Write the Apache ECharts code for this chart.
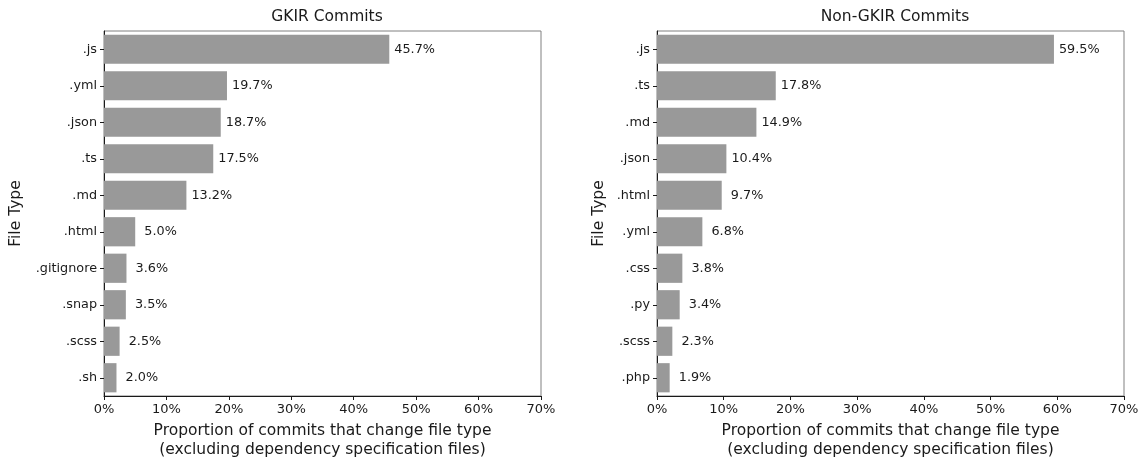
<!DOCTYPE html>
<html>
<head>
<meta charset="utf-8">
<script src="https://cdn.jsdelivr.net/npm/echarts@6/dist/echarts.min.js"></script>
<style>
  html, body { margin: 0; padding: 0; background: #fff; }
  #chart { width: 1147px; height: 468px; }
</style>
</head>
<body>
<div id="chart"></div>
<script>
// File types and the share of commits touching each one
const gkirTypes = ['.js', '.yml', '.json', '.ts', '.md', '.html', '.gitignore', '.snap', '.scss', '.sh'];
const gkirShares = [45.7, 19.7, 18.7, 17.5, 13.2, 5.0, 3.6, 3.5, 2.5, 2.0];

const otherTypes = ['.js', '.ts', '.md', '.json', '.html', '.yml', '.css', '.py', '.scss', '.php'];
const otherShares = [59.5, 17.8, 14.9, 10.4, 9.7, 6.8, 3.8, 3.4, 2.3, 1.9];

const panelTitles = ['GKIR Commits', 'Non-GKIR Commits'];
const xTitle = 'Proportion of commits that change file type\n(excluding dependency specification files)';
const yTitle = 'File Type';

const FONT = 'DejaVu Sans';
const DARK = '#1a1a1a';

// Pad single-digit percentages with a leading space, like a fixed-width format
function pctLabel(p) {
  const s = p.value.toFixed(1) + '%';
  return p.value < 10 ? ' ' + s : s;
}

function xAxisFor(gridIndex) {
  return {
    type: 'value', gridIndex, min: 0, max: 70, interval: 10,
    axisLine: { show: true, lineStyle: { color: DARK, width: 1 } },
    axisTick: { show: true, length: 4, lineStyle: { color: DARK } },
    axisLabel: { formatter: '{value}%', color: DARK, fontSize: 13, fontFamily: FONT, margin: 7 },
    splitLine: { show: false },
    name: xTitle, nameLocation: 'middle', nameGap: 26,
    nameTextStyle: { color: DARK, fontSize: 15.5, fontFamily: FONT, lineHeight: 18.5, verticalAlign: 'top' }
  };
}

function yAxisFor(gridIndex, cats, gap) {
  return {
    type: 'category', gridIndex, data: cats, inverse: true,
    axisLine: { show: true, lineStyle: { color: DARK, width: 1 } },
    axisTick: { show: true, length: 4, alignWithLabel: true, lineStyle: { color: DARK } },
    axisLabel: { color: DARK, fontSize: 12.8, fontFamily: FONT, margin: 7 },
    splitLine: { show: false },
    name: yTitle, nameLocation: 'middle', nameGap: gap, nameRotate: 90,
    nameTextStyle: { color: DARK, fontSize: 15.5, fontFamily: FONT }
  };
}

function barSeries(idx, values) {
  return {
    type: 'bar', xAxisIndex: idx, yAxisIndex: idx, data: values,
    barCategoryGap: '20%',
    itemStyle: { color: '#999999' },
    label: {
      show: true, position: 'right', distance: 5, formatter: pctLabel,
      color: DARK, fontSize: 12.8, fontFamily: FONT
    },
    silent: true
  };
}

const chart = echarts.init(document.getElementById('chart'), null, { renderer: 'canvas' });
chart.setOption({
  animation: false,
  backgroundColor: '#ffffff',
  textStyle: { fontFamily: FONT },
  title: [
    { text: panelTitles[0], left: 322, top: 4, textAlign: 'center',
      textStyle: { fontSize: 15.5, fontWeight: 'normal', color: DARK, fontFamily: FONT } },
    { text: panelTitles[1], left: 890, top: 4, textAlign: 'center',
      textStyle: { fontSize: 15.5, fontWeight: 'normal', color: DARK, fontFamily: FONT } }
  ],
  grid: [
    { left: 104, top: 31, width: 437, height: 365, show: true, borderColor: '#808080', borderWidth: 1, backgroundColor: 'transparent' },
    { left: 657, top: 31, width: 467, height: 365, show: true, borderColor: '#808080', borderWidth: 1, backgroundColor: 'transparent' }
  ],
  xAxis: [xAxisFor(0), xAxisFor(1)],
  yAxis: [yAxisFor(0, gkirTypes, 80), yAxisFor(1, otherTypes, 50)],
  series: [barSeries(0, gkirShares), barSeries(1, otherShares)]
});
</script>
</body>
</html>
